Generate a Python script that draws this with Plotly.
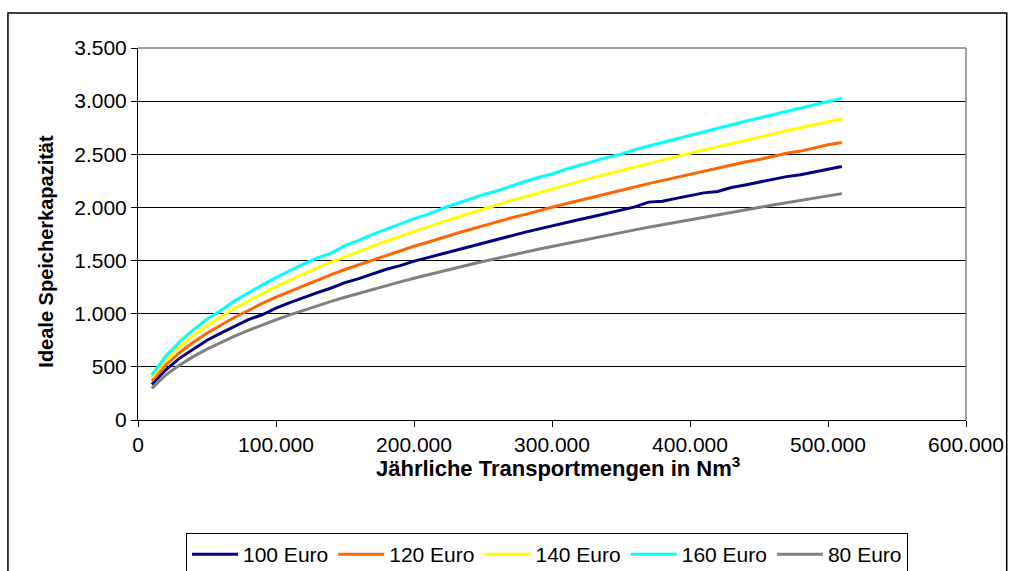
import plotly.graph_objects as go

# Annual transport volume (Nm³)
transport = [10000, 20000, 30000, 40000, 50000, 60000, 70000, 80000, 90000, 100000,
             110000, 120000, 130000, 140000, 150000, 160000, 170000, 180000, 190000, 200000,
             210000, 220000, 230000, 240000, 250000, 260000, 270000, 280000, 290000, 300000,
             310000, 320000, 330000, 340000, 350000, 360000, 370000, 380000, 390000, 400000,
             410000, 420000, 430000, 440000, 450000, 460000, 470000, 480000, 490000, 500000,
             510000]

# Ideal storage capacity per price level
cap_100 = [334, 470, 580, 668, 750, 818, 882, 945, 990, 1052, 1105, 1155, 1198, 1242, 1292,
           1330, 1372, 1418, 1452, 1495, 1528, 1562, 1600, 1632, 1668, 1700, 1732, 1765, 1796,
           1828, 1856, 1886, 1915, 1945, 1976, 2005, 2050, 2058, 2085, 2110, 2137, 2150,
           2188, 2212, 2238, 2262, 2290, 2308, 2336, 2360, 2385]
cap_120 = [366, 515, 633, 731, 817, 893, 967, 1030, 1097, 1156, 1210, 1266, 1316, 1368, 1416,
           1460, 1507, 1551, 1595, 1635, 1672, 1715, 1752, 1790, 1828, 1862, 1900, 1932, 1970,
           2002, 2035, 2068, 2100, 2132, 2163, 2193, 2224, 2253, 2285, 2312, 2340, 2370,
           2398, 2428, 2450, 2480, 2510, 2530, 2560, 2590, 2611]
cap_140 = [397, 561, 687, 794, 887, 972, 1050, 1122, 1191, 1255, 1316, 1375, 1431, 1485, 1537,
           1587, 1636, 1684, 1730, 1775, 1819, 1861, 1903, 1944, 1984, 2024, 2062, 2100, 2137,
           2174, 2210, 2245, 2280, 2314, 2348, 2381, 2414, 2447, 2478, 2510, 2541, 2572,
           2602, 2632, 2662, 2692, 2721, 2750, 2778, 2806, 2834]
cap_160 = [424, 599, 734, 848, 948, 1030, 1121, 1199, 1271, 1340, 1405, 1468, 1525, 1570, 1641,
           1690, 1747, 1798, 1847, 1895, 1935, 1988, 2032, 2076, 2119, 2155, 2202, 2242, 2282,
           2315, 2359, 2397, 2434, 2471, 2500, 2543, 2578, 2612, 2646, 2680, 2713, 2746,
           2779, 2811, 2842, 2874, 2905, 2936, 2966, 2996, 3026]
cap_80 = [298, 422, 516, 596, 667, 730, 789, 843, 895, 943, 989, 1033, 1075, 1116, 1155,
          1193, 1229, 1265, 1300, 1334, 1367, 1399, 1430, 1461, 1491, 1521, 1550, 1578, 1606,
          1633, 1660, 1687, 1713, 1739, 1764, 1789, 1814, 1838, 1862, 1886, 1909, 1933,
          1955, 1978, 2000, 2022, 2044, 2066, 2087, 2109, 2130]

series_names = ["100 Euro", "120 Euro", "140 Euro", "160 Euro", "80 Euro"]
series_values = [cap_100, cap_120, cap_140, cap_160, cap_80]
series_colors = ["#000080", "#FF6600", "#FFFF00", "#00FFFF", "#808080"]

x_ticks = [0, 100000, 200000, 300000, 400000, 500000, 600000]
x_labels = ["0", "100.000", "200.000", "300.000", "400.000", "500.000", "600.000"]
y_ticks = [0, 500, 1000, 1500, 2000, 2500, 3000, 3500]
y_labels = ["0", "500", "1.000", "1.500", "2.000", "2.500", "3.000", "3.500"]

FONT = "Liberation Sans, Arial, sans-serif"

fig = go.Figure()
for name, vals, col in zip(series_names, series_values, series_colors):
    fig.add_trace(go.Scatter(x=transport, y=vals, name=name, mode="lines",
                             line=dict(color=col, width=3)))

L, R, T, B = 138, 972, 48, 420
W, H = 1016, 571


def px(xp):
    return (xp - L) / (R - L)


def py(yp):
    return (B - yp) / (B - T)


fig.update_layout(
    width=W, height=H,
    margin=dict(l=L, r=W - R, t=T, b=H - B),
    paper_bgcolor="white", plot_bgcolor="white",
    font=dict(family=FONT, size=21, color="black"),
    showlegend=True,
    legend=dict(orientation="h", xref="container", yref="container",
                x=186 / W, y=1 - 533 / H, xanchor="left", yanchor="top",
                bordercolor="black", borderwidth=1, bgcolor="white",
                font=dict(family=FONT, size=21), itemwidth=46,
                tracegroupgap=0, traceorder="normal"),
    xaxis=dict(range=[0, 600000], tickvals=x_ticks, ticktext=x_labels,
               showgrid=False, zeroline=False, showline=True, linecolor="black",
               linewidth=1, ticks="outside", ticklen=6, tickcolor="black",
               tickfont=dict(size=21), fixedrange=True),
    yaxis=dict(range=[0, 3500], tickvals=y_ticks, ticktext=y_labels,
               showgrid=True, gridcolor="black", gridwidth=1, zeroline=False,
               showline=True, linecolor="black", linewidth=1, ticks="outside",
               ticklen=6, tickcolor="black", tickfont=dict(size=21), fixedrange=True),
    shapes=[
        # outer chart frame
        dict(type="rect", xref="paper", yref="paper",
             x0=px(7), x1=px(1013), y0=py(580), y1=py(13),
             line=dict(color="black", width=1.5), layer="below"),
        # grey top and right border of the plot area
        dict(type="line", xref="paper", yref="paper", x0=0, x1=1, y0=1, y1=1,
             line=dict(color="#808080", width=1.5)),
        dict(type="line", xref="paper", yref="paper", x0=1, x1=1, y0=0, y1=1,
             line=dict(color="#808080", width=1.5)),
    ],
    annotations=[
        dict(text="<b>Jährliche Transportmengen in Nm<sup>3</sup></b>",
             xref="paper", yref="paper", x=px(561), y=py(467),
             xanchor="center", yanchor="middle", showarrow=False,
             font=dict(family=FONT, size=22)),
        dict(text="<b>Ideale Speicherkapazität</b>", textangle=-90,
             xref="paper", yref="paper", x=px(45), y=py(251),
             xanchor="center", yanchor="middle", showarrow=False,
             font=dict(family=FONT, size=20)),
    ],
)

fig.write_html("out.html")
